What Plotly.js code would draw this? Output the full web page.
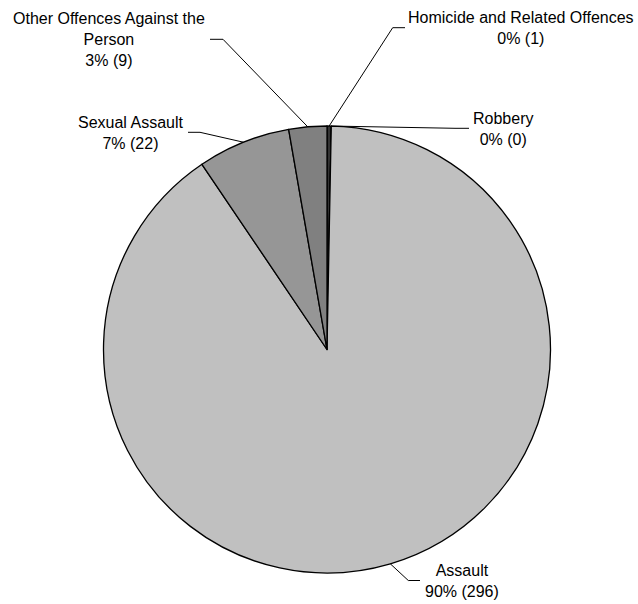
<!DOCTYPE html>
<html><head><meta charset="utf-8">
<script src="https://cdn.plot.ly/plotly-3.0.1.min.js"></script>
<style>html,body{margin:0;padding:0;background:#fff}</style>
</head><body>
<div id="chart" style="width:638px;height:604px"></div>
<script>
// ---- data ----
const categories = ["Homicide and Related Offences", "Robbery", "Assault", "Sexual Assault", "Other Offences Against the Person"];
const counts = [1, 0, 296, 22, 9];
const labelLines = ["Homicide and Related Offences", "Robbery", "Assault", "Sexual Assault", "Other Offences Against the<br>Person"];
const sliceColors = ["#333333", "#000000", "#c0c0c0", "#969696", "#808080"];

// ---- geometry / style ----
const W = 638, H = 604, CX = 327, CY = 349.5, R = 223.5;
const labelLayout = [
  {tx: 520.5, ty: 27.7,  elbow: [392.7, 27.7],  end: [405, 27.7]},
  {tx: 502.5, ty: 128.9, elbow: [455, 128.3],   end: [469, 128.3]},
  {tx: 461.5, ty: 580.8, elbow: [408.3, 580.5], end: [420, 580.5]},
  {tx: 131,   ty: 133,   elbow: [200, 132.3],   end: [188, 132.3]},
  {tx: 109,   ty: 39.4,  elbow: [223, 39.3],    end: [210, 39.3]}
];
const px = x => x / W, py = y => 1 - y / H;
const FONT = {family: "Liberation Sans, Arial, sans-serif", size: 16, color: "#000"};

const total = counts.reduce((a, b) => a + b, 0);
const annotations = [], shapes = [];
let cum = 0;
counts.forEach((v, i) => {
  const mid = (cum + v / 2) / total * 2 * Math.PI;
  cum += v;
  const ax = CX + R * Math.sin(mid), ay = CY - R * Math.cos(mid);
  const L = labelLayout[i];
  shapes.push({
    type: "path", xref: "paper", yref: "paper",
    path: `M ${px(ax)} ${py(ay)} L ${px(L.elbow[0])} ${py(L.elbow[1])} L ${px(L.end[0])} ${py(L.end[1])}`,
    line: {color: "#000", width: 1}
  });
  const pct = Math.round(v / total * 100);
  annotations.push({
    xref: "paper", yref: "paper", x: px(L.tx), y: py(L.ty),
    xanchor: "center", yanchor: "middle", align: "center", showarrow: false,
    text: `${labelLines[i]}<br>${pct}% (${v})`, font: FONT
  });
});

const trace = {
  type: "pie", labels: categories, values: counts, sort: false,
  direction: "clockwise", rotation: 0, textinfo: "none", hoverinfo: "label+value+percent",
  marker: {colors: sliceColors, line: {color: "#000", width: 1.3}},
  domain: {x: [px(CX - R), px(CX + R)], y: [py(CY + R), py(CY - R)]},
  showlegend: false
};

Plotly.newPlot("chart", [trace], {
  width: W, height: H, autosize: false,
  margin: {l: 0, r: 0, t: 0, b: 0},
  paper_bgcolor: "#fff", plot_bgcolor: "#fff",
  showlegend: false, annotations, shapes
}, {displayModeBar: false, staticPlot: true});
</script>
</body></html>
